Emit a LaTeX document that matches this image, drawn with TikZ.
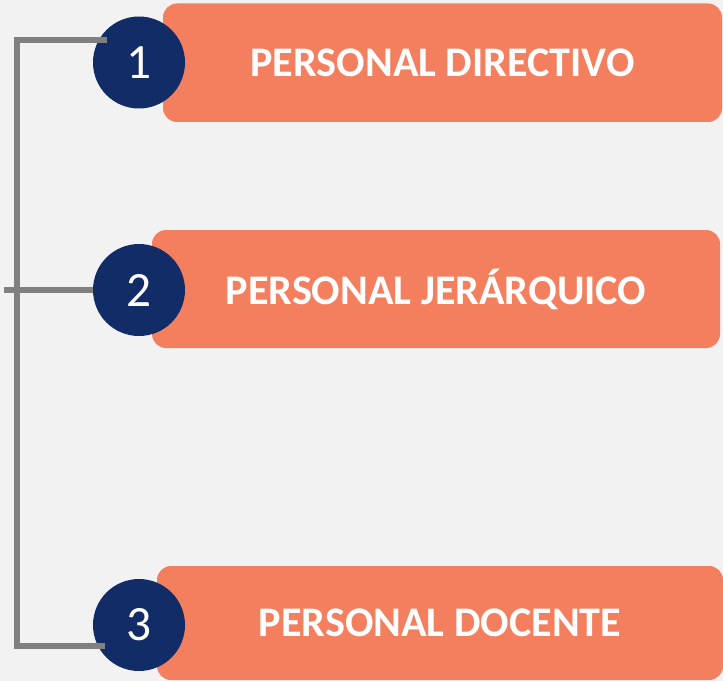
\documentclass[tikz,border=0pt]{standalone}
\usepackage{fontspec}
\setmainfont{Carlito}
\definecolor{bg}{HTML}{F2F2F2}
\definecolor{orng}{HTML}{F47F5E}
\definecolor{navy}{HTML}{122C68}
\definecolor{linegray}{HTML}{808080}
\tikzset{
  labelbox/.style={rectangle, rounded corners=10.5pt, fill=orng, inner sep=0pt,
    text=white, font=\fontsize{31.6}{31.6}\selectfont\bfseries},
  numcircle/.style={circle, fill=navy, minimum size=69pt, inner sep=0pt,
    text=white, font=\fontsize{37}{37}\selectfont},
  bracket/.style={draw=linegray, line width=3.8pt}
}
\begin{document}
\begin{tikzpicture}[x=0.75pt,y=-0.75pt]
\fill[bg] (0,0) rectangle (723,681);
\useasboundingbox (0,0) rectangle (723,681);
\node[labelbox, minimum width=559*0.75pt, minimum height=118.5*0.75pt] (b1) at (442.5,62.75) {PERSONAL DIRECTIVO};
\node[labelbox, minimum width=568*0.75pt, minimum height=118*0.75pt] (b2) at (436,289) {PERSONAL JERÁRQUICO};
\node[labelbox, minimum width=566*0.75pt, minimum height=114*0.75pt] (b3) at (440,623) {PERSONAL DOCENTE};
\node[numcircle] (c1) at (139,62.5) {1};
\node[numcircle] (c2) at (139,290) {2};
\node[numcircle] (c3) at (139,625) {3};
\coordinate (t1) at (107,40);
\coordinate (t0) at (17,40);
\coordinate (m0) at (4,290);
\coordinate (s0) at (17,646);
\coordinate (s1) at (105,646);
\draw[bracket] (t1) -- (t0) -- (s0) -- (s1);
\draw[bracket] (m0) -- (c2.west);
\end{tikzpicture}
\end{document}
